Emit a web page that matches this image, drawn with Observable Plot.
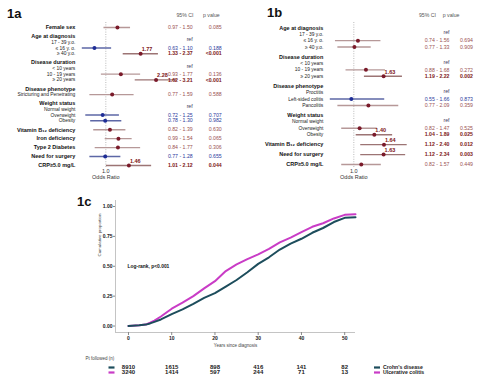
<!DOCTYPE html>
<html><head><meta charset="utf-8">
<script src="https://cdn.jsdelivr.net/npm/d3@7"></script>
<script src="https://cdn.jsdelivr.net/npm/@observablehq/plot@0.6"></script>
<style>
html,body{margin:0;padding:0;background:#fff;}
#fig{position:relative;width:487px;height:378px;overflow:hidden;font-family:"Liberation Sans",Arial,sans-serif;background:#fff;}
#fig > *{position:absolute;}
.plabel{font-weight:bold;font-size:13px;line-height:13px;color:#111;z-index:5;}
</style></head><body>
<div id="fig"></div>
<script>
// ---------- Panel 1a data ----------
const labelsA = ["Female sex","Age at diagnosis","17 - 39 y.o.","≤ 16 y. o.","≥ 40 y.o.","Disease duration","< 10 years","10 - 19 years","≥ 20 years","Disease phenotype","Stricturing and Penetrating","Weight status","Normal weight","Overweight","Obesity","Vitamin B₁₂ deficiency","Iron deficiency","Type 2 Diabetes","Need for surgery","CRP≥5.0 mg/L"];
const kindsA  = ["item","head","sub","sub","sub","head","sub","sub","sub","head","sub","head","sub","sub","sub","item","item","item","item","item"];
const orA = [1.21,null,null,0.83,1.77,null,null,1.28,2.28,null,1.11,null,null,0.95,0.99,1.07,1.23,1.22,0.99,1.46];
const loA = [0.97,null,null,0.63,1.33,null,null,0.93,1.62,null,0.77,null,null,0.72,0.78,0.82,0.99,0.84,0.77,1.01];
const hiA = [1.50,null,null,1.10,2.37,null,null,1.77,3.21,null,1.59,null,null,1.25,1.30,1.39,1.54,1.77,1.28,2.12];
const pA  = ["0.085",null,null,"0.188","<0.001",null,null,"0.136","<0.001",null,"0.588",null,null,"0.707","0.982","0.630","0.065","0.306","0.655","0.044"];

// ---------- Panel 1b data ----------
const labelsB = ["Age at diagnosis","17 - 39 y.o.","≤ 16 y. o.","≥ 40 y.o.","Disease duration","< 10 years","10 - 19 years","≥ 20 years","Disease phenotype","Proctitis","Left-sided colitis","Pancolitis","Weight status","Normal weight","Overweight","Obesity","Vitamin B₁₂ deficiency","Need for surgery","CRP≥5.0 mg/L"];
const kindsB  = ["head","sub","sub","sub","head","sub","sub","sub","head","sub","sub","sub","head","sub","sub","sub","item","item","item"];
const orB = [null,null,1.07,1.01,null,null,1.22,1.63,null,null,0.96,1.27,null,null,1.10,1.40,1.64,1.63,1.13];
const loB = [null,null,0.74,0.77,null,null,0.88,1.19,null,null,0.55,0.77,null,null,0.82,1.04,1.12,1.12,0.82];
const hiB = [null,null,1.56,1.33,null,null,1.68,2.22,null,null,1.66,2.09,null,null,1.47,1.89,2.40,2.34,1.57];
const pB  = [null,null,"0.694","0.909",null,null,"0.272","0.002",null,null,"0.873","0.359",null,null,"0.525","0.025","0.012","0.003","0.449"];

// ---------- Panel 1c data ----------
const groups = ["Crohn's disease","Ulcerative colitis"];
const kmYears = [0,2.5,4,5,6,7.5,10,12.5,15,17.5,20,22.5,25,27.5,30,32.5,35,37.5,40,42.5,45,47.5,50,52.5];
const kmUC = [0,0.006,0.012,0.028,0.045,0.08,0.145,0.195,0.25,0.315,0.375,0.46,0.515,0.56,0.60,0.645,0.70,0.74,0.785,0.83,0.86,0.90,0.93,0.935];
const kmCD = [0,0.006,0.012,0.022,0.035,0.055,0.10,0.14,0.185,0.235,0.275,0.33,0.385,0.45,0.52,0.575,0.64,0.69,0.73,0.78,0.82,0.87,0.905,0.91];
const riskYears = [0,10,20,30,40,50];
const riskCD = [8910,1615,898,416,141,82];
const riskUC = [3240,1414,597,244,71,13];
const yTicksKM = [0,0.25,0.5,0.75,1];
const xTicksKM = [0,10,20,30,40,50];

const FONT = "'Liberation Sans', Arial, sans-serif";
const RED = "#7a1a2a", BLUE = "#1e2d96";
const CD_COLOR = "#1d4d5c", UC_COLOR = "#c93cc6";
const fmt = d3.format(".2f");
const dashSymbol = {draw(context) { context.rect(-3, -1.1, 6, 2.2); }};

function forest(data, cfg) {
  const {labels, kinds, or, lo, hi, p} = data;
  let s = 0;
  const rows = labels.map((label, i) => {
    if (i > 0) s += kinds[i] === "sub" ? (kinds[i-1] === "head" ? cfg.gapHeader : 1) : cfg.gapGroup;
    const sig = p[i] != null && (p[i].startsWith("<") || +p[i] < 0.05);
    return {label, kind: kinds[i], or: or[i], lo: lo[i], hi: hi[i], p: p[i], slot: s, sig,
            ref: kinds[i] === "sub" && or[i] == null, prot: or[i] != null && or[i] < 1};
  });
  const last = s;
  const est = rows.filter(d => d.or != null);
  const lineColor = d => d.prot ? "#5d67a6" : (d.sig ? "#9c7474" : "#b69898");
  const dotColor = d => d.prot ? BLUE : RED;
  const txtColor = d => d.prot ? "#2c3b9c" : (d.sig ? "#7d1616" : "#9a5252");
  return Plot.plot({
    width: cfg.width, height: 185,
    marginLeft: cfg.ml, marginRight: cfg.mr, marginTop: 22, marginBottom: 17,
    x: {type: "log", domain: cfg.xDomain, axis: null},
    y: {domain: [0, last], range: [cfg.y0, cfg.y0 + last * cfg.unit], axis: null},
    style: {fontFamily: FONT, background: "transparent", overflow: "visible"},
    marks: [
      Plot.ruleX([1], {stroke: "#aaaaaa", strokeDasharray: "1,1.4", strokeWidth: 0.8}),
      Plot.ruleY(est, {y: "slot", x1: "lo", x2: "hi", stroke: lineColor, strokeWidth: 1.4, clip: true}),
      Plot.dot(est, {x: "or", y: "slot", r: 2, fill: dotColor, strokeWidth: 0}),
      Plot.text(est.filter(d => d.sig), {x: "or", y: "slot", text: d => fmt(d.or), dx: 1, dy: -4.5, textAnchor: "start", fontSize: 5.5, fontWeight: "bold", fill: "#7d1616"}),
      Plot.text(rows.filter(d => d.kind !== "sub"), {y: "slot", text: "label", frameAnchor: "left", dx: cfg.labelDx, textAnchor: "end", fontSize: 5.5, fontWeight: "bold", fill: "#111"}),
      Plot.text(rows.filter(d => d.kind === "sub"), {y: "slot", text: "label", frameAnchor: "left", dx: cfg.labelDx, textAnchor: "end", fontSize: 4.9, fill: "#222"}),
      Plot.text(est.filter(d => !d.sig), {y: "slot", text: d => `${fmt(d.lo)} - ${fmt(d.hi)}`, frameAnchor: "right", dx: cfg.ciDx, fontSize: 5.2, fill: txtColor}),
      Plot.text(est.filter(d => d.sig), {y: "slot", text: d => `${fmt(d.lo)} - ${fmt(d.hi)}`, frameAnchor: "right", dx: cfg.ciDx, fontSize: 5.2, fontWeight: "bold", fill: txtColor}),
      Plot.text(est.filter(d => !d.sig), {y: "slot", text: "p", frameAnchor: "right", dx: cfg.pDx, fontSize: 5.2, fill: txtColor}),
      Plot.text(est.filter(d => d.sig), {y: "slot", text: "p", frameAnchor: "right", dx: cfg.pDx, fontSize: 5.2, fontWeight: "bold", fill: txtColor}),
      Plot.text(rows.filter(d => d.ref), {y: "slot", text: () => "ref", frameAnchor: "right", dx: cfg.ciDx, dy: cfg.refDy, fontSize: 5.2, fill: "#3a3a5a"}),
      Plot.text(["95% CI"], {text: d => d, frameAnchor: "top-right", dx: cfg.hCiDx, dy: -9, fontSize: 5.2, fill: "#555"}),
      Plot.text(["p value"], {text: d => d, frameAnchor: "top-right", dx: cfg.hPDx, dy: -9, fontSize: 5.2, fill: "#555"}),
      Plot.text([1], {x: d => d, text: () => "1.0", frameAnchor: "bottom", dy: 4, fontSize: 5.5, fill: "#333"}),
      Plot.text([1], {x: d => d, text: () => "Odds Ratio", frameAnchor: "bottom", dy: 10, fontSize: 5.5, fill: "#333"})
    ]
  });
}

const fig = document.getElementById("fig");
function place(el, left, top) { el.style.left = left + "px"; el.style.top = top + "px"; fig.appendChild(el); }

const plotA = forest({labels: labelsA, kinds: kindsA, or: orA, lo: loA, hi: hiA, p: pA},
  {width: 240, ml: 81.8, mr: 58.3, xDomain: [0.68, 3.5], y0: 27, unit: 5.76, gapGroup: 1.55, gapHeader: 1.0,
   labelDx: -7, ciDx: 10.5, pDx: 39.5, hCiDx: 11.3, hPDx: 37.5, refDy: -2.5});
place(plotA, 0, 0);

const plotB = forest({labels: labelsB, kinds: kindsB, or: orB, lo: loB, hi: hiB, p: pB},
  {width: 247, ml: 89.8, mr: 57.3, xDomain: [0.68, 3.5], y0: 27.3, unit: 6.42, gapGroup: 1.55, gapHeader: 1.0,
   labelDx: -7, ciDx: 19.3, pDx: 42.8, hCiDx: 5.8, hPDx: 29.3, refDy: -1.5});
place(plotB, 240, 0);

// ---------- KM plot ----------
const xDomainKM = [-3, 52.5];
const yDomainKM = [-0.054, 1.05];
const kmRows = [
  ...kmYears.map((t, i) => ({t, v: kmUC[i], g: groups[1]})),
  ...kmYears.map((t, i) => ({t, v: kmCD[i], g: groups[0]}))
];
const logRankAt = [-0.2, 0.5];
const plotC = Plot.plot({
  width: 487, height: 155, marginLeft: 115, marginRight: 132, marginTop: 5, marginBottom: 18,
  x: {domain: xDomainKM},
  y: {domain: yDomainKM},
  color: {domain: groups, range: [CD_COLOR, UC_COLOR]},
  style: {fontFamily: FONT, background: "transparent", overflow: "visible", color: "#222"},
  marks: [
    Plot.ruleY([yDomainKM[0]], {stroke: "#c4c4c4", strokeWidth: 1}),
    Plot.ruleX([xDomainKM[0]], {stroke: "#c4c4c4", strokeWidth: 1}),
    Plot.axisY({ticks: yTicksKM, tickFormat: ".2f", tickSize: 2, tickPadding: 1, fontSize: 5, fontWeight: "bold", label: null, stroke: "#888"}),
    Plot.axisX({ticks: xTicksKM, tickSize: 3, tickPadding: 1, fontSize: 5, fontWeight: "bold", label: null, stroke: "#888"}),
    Plot.line(kmRows, {x: "t", y: "v", stroke: "g", strokeWidth: 2, z: "g"}),
    Plot.text(["Log-rank, p<0.001"], {x: logRankAt[0], y: logRankAt[1], text: d => d, textAnchor: "start", fontSize: 4.9, fontWeight: "bold", fill: "#111"}),
    Plot.text(["Cumulative proportion"], {text: d => d, frameAnchor: "left", rotate: -90, dx: -16, dy: -10, fontSize: 4.4, fill: "#444"}),
    Plot.text(["Years since diagnosis"], {text: d => d, frameAnchor: "bottom", dy: 14, fontSize: 4.5, fill: "#444"})
  ]
});
place(plotC, 0, 195);

// ---------- risk table ----------
const riskRows = [
  ...riskYears.map((t, i) => ({t, n: riskCD[i], g: groups[0]})),
  ...riskYears.map((t, i) => ({t, n: riskUC[i], g: groups[1]}))
];
const plotD = Plot.plot({
  width: 487, height: 28, marginLeft: 115, marginRight: 132, marginTop: 0, marginBottom: 0,
  x: {domain: xDomainKM, axis: null},
  y: {type: "point", domain: groups, range: [14, 24], axis: null},
  color: {domain: groups, range: [CD_COLOR, UC_COLOR]},
  style: {fontFamily: FONT, background: "transparent", overflow: "visible"},
  marks: [
    Plot.text(riskRows, {x: "t", y: "g", text: d => String(d.n), fontSize: 6, fontWeight: "bold", fill: "#222"}),
    Plot.dot(groups, {y: d => d, frameAnchor: "left", dx: -4, symbol: dashSymbol, fill: d => d, strokeWidth: 0}),
    Plot.dot(groups, {y: d => d, frameAnchor: "right", dx: 21.5, symbol: dashSymbol, fill: d => d, strokeWidth: 0}),
    Plot.text(groups, {y: d => d, text: d => d, frameAnchor: "right", dx: 27.5, textAnchor: "start", fontSize: 5.2, fontWeight: "bold", fill: "#222"}),
    Plot.text(["Pt followed (n)"], {text: d => d, frameAnchor: "top-left", dx: -30, dy: 6, textAnchor: "start", fontSize: 4.5, fill: "#444"})
  ]
});
place(plotD, 0, 350);

// panel labels
[["1a", 7, 6.9], ["1b", 267, 6.2], ["1c", 77, 195.2]].forEach(([t, x, y]) => {
  const d = document.createElement("div"); d.className = "plabel"; d.textContent = t; place(d, x, y);
});
</script>
</body></html>
